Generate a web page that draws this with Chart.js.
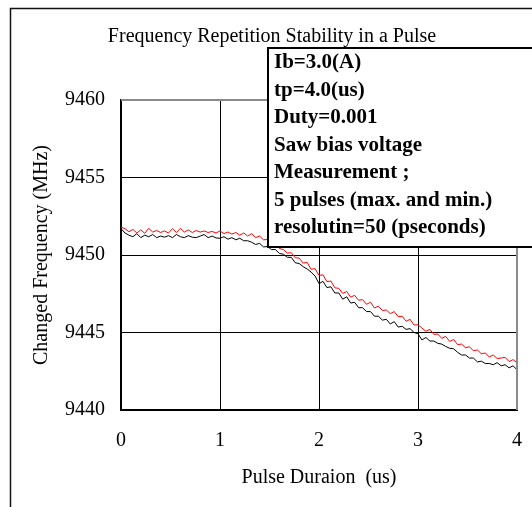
<!DOCTYPE html>
<html>
<head>
<meta charset="utf-8">
<script src="https://cdn.jsdelivr.net/npm/chart.js@4/dist/chart.umd.min.js"></script>
<style>
  body { margin: 0; background: #fff; overflow: hidden; }
  canvas { display: block; }
</style>
</head>
<body>
<canvas id="freq_chart" width="532" height="507"></canvas>
<script>
// sample times in us
const timeUs = [
  0.00, 0.04, 0.08, 0.12, 0.16, 0.20, 0.24, 0.28, 0.32, 0.36,
  0.40, 0.44, 0.48, 0.52, 0.56, 0.60, 0.64, 0.68, 0.72, 0.76,
  0.80, 0.84, 0.88, 0.92, 0.96, 1.00, 1.04, 1.08, 1.12, 1.16,
  1.20, 1.24, 1.28, 1.32, 1.36, 1.40, 1.44, 1.48, 1.52, 1.56,
  1.60, 1.64, 1.68, 1.72, 1.76, 1.80, 1.84, 1.88, 1.92, 1.96,
  2.00, 2.04, 2.08, 2.12, 2.16, 2.20, 2.24, 2.28, 2.32, 2.36,
  2.40, 2.44, 2.48, 2.52, 2.56, 2.60, 2.64, 2.68, 2.72, 2.76,
  2.80, 2.84, 2.88, 2.92, 2.96, 3.00, 3.04, 3.08, 3.12, 3.16,
  3.20, 3.24, 3.28, 3.32, 3.36, 3.40, 3.44, 3.48, 3.52, 3.56,
  3.60, 3.64, 3.68, 3.72, 3.76, 3.80, 3.84, 3.88, 3.92, 3.96,
  4.00
]

// max of 5 pulses (red)
const freqMax = [
  9451.80, 9451.70, 9451.50, 9451.65, 9451.42, 9451.62, 9451.40, 9451.72, 9451.48, 9451.58,
  9451.45, 9451.55, 9451.42, 9451.70, 9451.45, 9451.72, 9451.48, 9451.62, 9451.45, 9451.58,
  9451.48, 9451.55, 9451.45, 9451.52, 9451.42, 9451.55, 9451.38, 9451.48, 9451.35, 9451.45,
  9451.28, 9451.42, 9451.22, 9451.38, 9451.12, 9451.22, 9450.98, 9451.00, 9450.78, 9450.75,
  9450.42, 9450.35, 9450.12, 9450.15, 9449.82, 9449.80, 9449.48, 9449.52, 9449.08, 9449.12,
  9448.68, 9448.72, 9448.28, 9448.32, 9447.88, 9447.85, 9447.52, 9447.65, 9447.28, 9447.40,
  9447.08, 9447.12, 9446.82, 9446.95, 9446.58, 9446.70, 9446.42, 9446.45, 9446.22, 9446.35,
  9446.02, 9446.05, 9445.72, 9445.85, 9445.48, 9445.50, 9445.28, 9445.08, 9445.20, 9444.88,
  9444.90, 9444.62, 9444.75, 9444.42, 9444.55, 9444.22, 9444.25, 9444.02, 9444.08, 9443.82,
  9443.88, 9443.62, 9443.68, 9443.42, 9443.55, 9443.32, 9443.35, 9443.40, 9443.12, 9443.25,
  9443.05
]

// min of 5 pulses (black)
const freqMin = [
  9451.70, 9451.42, 9451.28, 9451.18, 9451.38, 9451.12, 9451.28, 9451.18, 9451.32, 9451.12,
  9451.22, 9451.15, 9451.25, 9451.12, 9451.32, 9451.18, 9451.12, 9451.25, 9451.15, 9451.12,
  9451.22, 9451.32, 9451.12, 9451.22, 9451.10, 9451.08, 9451.18, 9451.02, 9451.12, 9450.98,
  9451.08, 9450.92, 9450.92, 9450.82, 9450.68, 9450.75, 9450.52, 9450.55, 9450.35, 9450.35,
  9450.10, 9450.05, 9449.85, 9449.85, 9449.50, 9449.45, 9449.25, 9449.10, 9448.90, 9448.65,
  9448.15, 9448.30, 9447.90, 9447.95, 9447.55, 9447.55, 9447.15, 9447.30, 9446.90, 9446.95,
  9446.60, 9446.60, 9446.35, 9446.35, 9446.05, 9446.05, 9445.80, 9445.85, 9445.55, 9445.70,
  9445.35, 9445.40, 9445.20, 9445.25, 9445.00, 9444.92, 9444.52, 9444.68, 9444.45, 9444.45,
  9444.30, 9444.25, 9444.10, 9443.98, 9443.95, 9443.72, 9443.55, 9443.55, 9443.35, 9443.35,
  9443.10, 9443.15, 9443.00, 9443.00, 9442.92, 9443.05, 9442.85, 9442.92, 9442.72, 9442.85,
  9442.60
]

const noteLines = [
  'Ib=3.0(A)',
  'tp=4.0(us)',
  'Duty=0.001',
  'Saw bias voltage',
  'Measurement ;',
  '5 pulses (max. and min.)',
  'resolutin=50 (pseconds)'
]

const serif = "'Liberation Serif', 'Times New Roman', serif"

function toPoints(ys) {
  return timeUs.map((t, i) => ({ x: t, y: ys[i] }))
}

// frame lines, outer box and the text note
const decorPlugin = {
  id: 'decor',
  afterDraw(chart) {
    const ctx = chart.ctx
    const a = chart.chartArea
    ctx.save()
    // grey top and right edge of the plot
    ctx.strokeStyle = '#8a8a8a'
    ctx.lineWidth = 2
    ctx.beginPath()
    ctx.moveTo(a.left, a.top)
    ctx.lineTo(a.right, a.top)
    ctx.lineTo(a.right, a.bottom)
    ctx.stroke()

    // outer box
    ctx.strokeStyle = '#111'
    ctx.lineWidth = 1.5
    ctx.beginPath()
    ctx.moveTo(10.5, 540)
    ctx.lineTo(10.5, 8.5)
    ctx.lineTo(540, 8.5)
    ctx.stroke()

    // note box
    ctx.fillStyle = '#fff'
    ctx.fillRect(268, 48, 300, 199)
    ctx.strokeStyle = '#000'
    ctx.lineWidth = 2
    ctx.strokeRect(268, 48, 300, 199)
    ctx.fillStyle = '#000'
    ctx.font = 'bold 21px ' + serif
    ctx.textBaseline = 'middle'
    ctx.textAlign = 'left'
    noteLines.forEach((txt, i) => {
      ctx.fillText(txt, 274, 63 + i * 27.5)
    })
    ctx.restore()
  }
}

const data = {
  datasets: [{
    label: 'max',
    data: toPoints(freqMax),
    borderColor: '#ff0000',
    borderWidth: 1,
    pointRadius: 0,
    tension: 0
  }, {
    label: 'min',
    data: toPoints(freqMin),
    borderColor: '#000000',
    borderWidth: 1,
    pointRadius: 0,
    tension: 0
  }]
}

const config = {
  type: 'line',
  data: data,
  options: {
    responsive: false,
    animation: false,
    layout: { padding: { left: 27, right: 15, top: 0, bottom: 0 } },
    plugins: {
      legend: { display: false },
      tooltip: { enabled: false },
      title: {
        display: true,
        text: 'Frequency Repetition Stability in a Pulse',
        color: '#000',
        font: { family: serif, size: 20, weight: 'normal' },
        padding: { top: 25, bottom: 51 }
      }
    },
    scales: {
      x: {
        type: 'linear',
        min: 0,
        max: 4,
        ticks: {
          stepSize: 1,
          color: '#000',
          padding: 19,
          font: { family: serif, size: 20 }
        },
        grid: { color: '#000', lineWidth: 1, drawTicks: false },
        border: { color: '#000', width: 2 },
        title: {
          display: true,
          text: 'Pulse Duraion  (us)',
          color: '#000',
          font: { family: serif, size: 20 },
          padding: { top: 0, bottom: 17 }
        },
        afterFit(scale) {
          scale.height = 97
          scale.paddingLeft = 5
          scale.paddingRight = 5
        }
      },
      y: {
        min: 9440,
        max: 9460,
        ticks: {
          stepSize: 5,
          color: '#000',
          padding: 16,
          font: { family: serif, size: 20 },
          callback: (v) => String(v)
        },
        grid: { color: '#000', lineWidth: 1, drawTicks: false },
        border: { color: '#000', width: 2 },
        title: {
          display: true,
          text: 'Changed Frequency (MHz)',
          color: '#000',
          font: { family: serif, size: 20 },
          padding: { top: 3, bottom: 0 }
        },
        afterFit(scale) { scale.width = 94 }
      }
    }
  },
  plugins: [decorPlugin]
}

const freqChart = new Chart(document.getElementById('freq_chart'), config)
</script>
</body>
</html>
